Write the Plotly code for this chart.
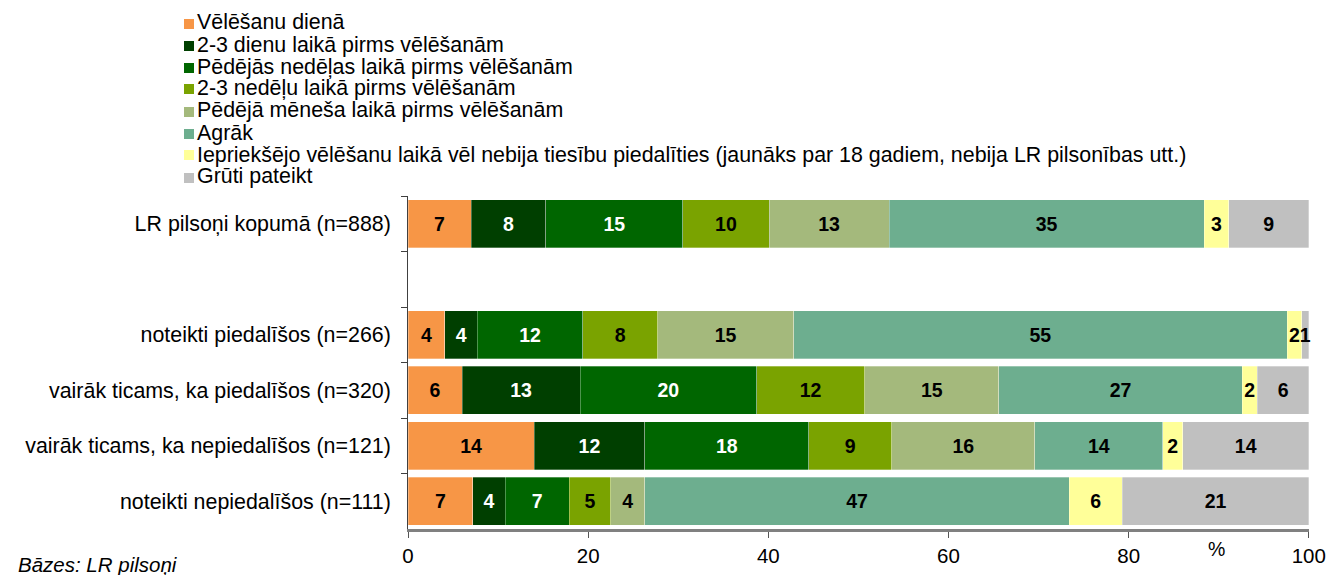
import plotly.graph_objects as go

categories = [
    "LR pilsoņi kopumā (n=888)",
    " ",
    "noteikti piedalīšos (n=266)",
    "vairāk ticams, ka piedalīšos (n=320)",
    "vairāk ticams, ka nepiedalīšos (n=121)",
    "noteikti nepiedalīšos (n=111)",
]

series_names = [
    "Vēlēšanu dienā",
    "2-3 dienu laikā pirms vēlēšanām",
    "Pēdējās nedēļas laikā pirms vēlēšanām",
    "2-3 nedēļu laikā pirms vēlēšanām",
    "Pēdējā mēneša laikā pirms vēlēšanām",
    "Agrāk",
    "Iepriekšējo vēlēšanu laikā vēl nebija tiesību piedalīties (jaunāks par 18 gadiem, nebija LR pilsonības utt.)",
    "Grūti pateikt",
]

# values per series, in category order (None = empty spacer row)
velesanu_diena = [7.0, None, 4.1, 6.0, 14.0, 7.2]
dienu_2_3 = [8.3, None, 3.6, 13.1, 12.3, 3.6]
pedejas_nedelas = [15.2, None, 11.7, 19.6, 18.2, 7.1]
nedelu_2_3 = [9.6, None, 8.3, 12.0, 9.2, 4.6]
pedeja_menesa = [13.3, None, 15.1, 14.9, 15.9, 3.8]
agrak = [35.0, None, 54.8, 27.0, 14.2, 47.1]
nebija_tiesibu = [2.7, None, 1.6, 1.7, 2.2, 5.9]
gruti_pateikt = [8.9, None, 0.8, 5.7, 14.0, 20.7]

series_values = [velesanu_diena, dienu_2_3, pedejas_nedelas, nedelu_2_3,
                 pedeja_menesa, agrak, nebija_tiesibu, gruti_pateikt]

x_ticks = [0, 20, 40, 60, 80, 100]

colors = ["#F79646", "#003F00", "#006600", "#7AA300", "#A4B97C", "#6DAE8F", "#FFFF99", "#C0C0C0"]
text_colors = ["black", "white", "white", "black", "black", "black", "black", "black"]

FONT = "Liberation Sans, Arial, sans-serif"
W, H = 1338, 575
ML, MR, MT, MB = 408, 29, 196, 46
PW, PH = W - ML - MR, H - MT - MB


def px_x(px):
    return (px - ML) / PW


def px_y(py):
    return (H - MB - py) / PH


fig = go.Figure()
for name, vals, col, tcol in zip(series_names, series_values, colors, text_colors):
    fig.add_trace(go.Bar(
        name=name,
        y=categories,
        x=vals,
        orientation="h",
        marker=dict(color=col, line=dict(color="rgba(255,255,255,0.5)", width=0.6)),
        texttemplate="%{x:.0f}",
        textposition="inside",
        insidetextanchor="middle",
        textangle=0,
        constraintext="none",
        cliponaxis=False,
        textfont=dict(family=FONT, size=19.5, color=tcol, weight="bold"),
        showlegend=False,
    ))

fig.update_layout(
    barmode="stack",
    bargap=0.13,
    width=W,
    height=H,
    margin=dict(l=ML, r=MR, t=MT, b=MB, autoexpand=False),
    plot_bgcolor="white",
    paper_bgcolor="white",
    font=dict(family=FONT, size=21, color="black"),
    uniformtext=dict(minsize=19, mode="show"),
    showlegend=False,
    xaxis=dict(
        range=[0, 100.02],
        tickvals=x_ticks,
        ticks="outside",
        ticklen=6,
        tickcolor="#555555",
        tickwidth=1,
        showline=True,
        linecolor="#808080",
        linewidth=3,
        showgrid=False,
        zeroline=False,
        tickfont=dict(size=20.5),
        fixedrange=True,
    ),
    yaxis=dict(
        categoryorder="array",
        categoryarray=categories,
        autorange="reversed",
        tickson="boundaries",
        ticks="outside",
        ticklen=6,
        tickcolor="#404040",
        showline=True,
        linecolor="#404040",
        linewidth=1,
        showgrid=False,
        tickfont=dict(size=21.4),
        ticksuffix="  ",
        fixedrange=True,
    ),
)

# legend drawn as a compact list (square swatch + label), as in the original
for i, (name, col) in enumerate(zip(series_names, colors)):
    yc = 23.5 + 22.0 * i
    fig.add_annotation(text="", x=px_x(183.5), y=px_y(yc), xref="paper", yref="paper",
                       xanchor="left", yanchor="middle", width=10, height=10,
                       bgcolor=col, showarrow=False, borderpad=0, borderwidth=0)
    fig.add_annotation(text=name, x=px_x(196), y=px_y(yc - 1), xref="paper", yref="paper",
                       xanchor="left", yanchor="middle", showarrow=False,
                       font=dict(size=21.4), borderpad=0)

fig.add_annotation(text="%", x=px_x(1216), y=px_y(549), xref="paper", yref="paper",
                   showarrow=False, font=dict(size=19.5), xanchor="center", yanchor="middle")
fig.add_annotation(text="<i>Bāzes: LR pilsoņi</i>", x=px_x(17), y=px_y(552),
                   xref="paper", yref="paper", showarrow=False, font=dict(size=20.5),
                   xanchor="left", yanchor="top", borderpad=0)

fig.write_html("out.html", config={"displayModeBar": False},
               post_script="document.body.style.margin='0';")
